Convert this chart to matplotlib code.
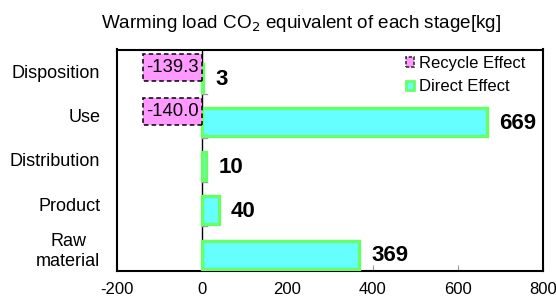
import matplotlib
matplotlib.use("Agg")
import matplotlib.pyplot as plt
from matplotlib.patches import Patch
import numpy as np

plt.rcParams['font.family'] = ['Liberation Sans', 'DejaVu Sans']

categories = ["Raw\nmaterial", "Product", "Distribution", "Use", "Disposition"]
direct = [369, 40, 10, 669, 3]
recycle = [None, None, None, -140.0, -139.3]
xticks = [-200, 0, 200, 400, 600, 800]

L, R, T, B = 117, 543, 49.5, 270.5
fig = plt.figure(figsize=(5.56, 2.96), dpi=100)
ax = fig.add_axes([L/556, 1-B/296, (R-L)/556, (B-T)/296])

y = np.arange(len(categories))
cyan = "#66FFFF"
green = "#66FF66"
pink = "#FF99FF"

# direct bars
ax.barh(y - 0.14, direct, height=0.63, color=cyan, edgecolor=green, linewidth=2.4, zorder=3)
for yi, v in zip(y, direct):
    ax.annotate(f"{v}", (v, yi - 0.14), xytext=(8.5, -1), textcoords="offset points",
                ha="left", va="center", fontsize=16, fontweight="bold", zorder=5)

# recycle bars
for yi, v in zip(y, recycle):
    if v is None:
        continue
    ax.barh(yi + 0.095, v, height=0.61, color=pink, edgecolor="black", linewidth=1.1,
            linestyle=(0, (3, 2)), zorder=4)
    ax.text(v / 2, yi + 0.095, f"{v:.1f}", ha="center", va="center", fontsize=13.3, zorder=5)

ax.set_xlim(-200, 800)
ax.set_ylim(-0.5, len(categories) - 0.5)
ax.set_xticks(xticks)
ax.set_xticklabels([str(t) for t in xticks], fontsize=12)
ax.tick_params(axis="x", direction="in", length=4, color="#999999", pad=8)
ax.set_yticks(y)
ax.set_yticklabels(categories, fontsize=13, ha="right", multialignment="center")
ax.tick_params(axis="y", length=0, pad=12)
for s in ax.spines.values():
    s.set_linewidth(1.5)
    s.set_color("black")

# zero line with category boundary ticks
ax.axvline(0, color="black", linewidth=1, zorder=2)
for b in np.arange(-0.5, len(categories), 1.0):
    ax.plot([0, 12], [b, b], color="#999999", linewidth=1, zorder=2)

# legend
handles = [Patch(facecolor=pink, edgecolor="#333333", linestyle=(0, (2, 1)), linewidth=1.2),
           Patch(facecolor=cyan, edgecolor=green, linewidth=2)]
leg = ax.legend(handles, ["Recycle Effect", "Direct Effect"], loc="upper right",
                frameon=False, fontsize=12, handlelength=0.5, handleheight=0.5,
                handletextpad=0.25, labelspacing=0.5, borderaxespad=0, borderpad=0,
                bbox_to_anchor=((525-L)/(R-L), (B-56)/(B-T)))

fig.text(301/556, 1-23/296, "Warming load CO$_2$ equivalent of each stage[kg]",
         ha="center", va="center", fontsize=13.6)

fig.savefig("out.png", dpi=100)
